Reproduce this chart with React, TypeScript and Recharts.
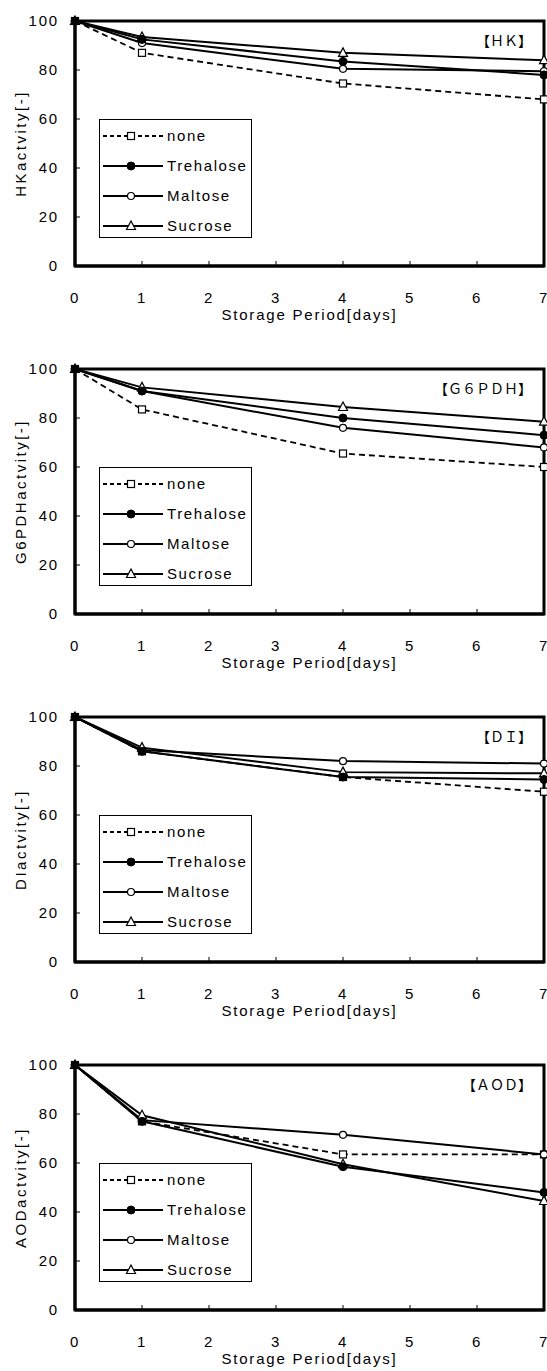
import React from 'react';
import { LineChart, Line, XAxis, YAxis, ReferenceArea, Legend } from 'recharts';

const days = [0, 1, 4, 7];
const xTicks = [0, 1, 2, 3, 4, 5, 6, 7];
const yTicks = [0, 20, 40, 60, 80, 100];

// HK
const hkNone = [100, 87, 74.5, 68];
const hkTrehalose = [100, 92.5, 83.5, 78];
const hkMaltose = [100, 91, 80.5, 79.5];
const hkSucrose = [100, 93.5, 87, 84];

// G6PDH
const g6None = [100, 83.5, 65.5, 60];
const g6Trehalose = [100, 91, 80, 73];
const g6Maltose = [100, 91, 76, 68];
const g6Sucrose = [100, 92.5, 84.5, 78.5];

// DI
const diNone = [100, 86, 75.5, 69.5];
const diTrehalose = [100, 86, 75.5, 74.5];
const diMaltose = [100, 86.5, 82, 81];
const diSucrose = [100, 87.5, 77.5, 77];

// AOD
const aodNone = [100, 77, 63.5, 63.5];
const aodTrehalose = [100, 77, 58.5, 48];
const aodMaltose = [100, 77.5, 71.5, 63.5];
const aodSucrose = [100, 79.5, 59.5, 44.5];

const panels = [
  { tag: '【ＨＫ】', yLabel: 'HKactvity[-]', none: hkNone, trehalose: hkTrehalose, maltose: hkMaltose, sucrose: hkSucrose },
  { tag: '【Ｇ６ＰＤＨ】', yLabel: 'G6PDHactvity[-]', none: g6None, trehalose: g6Trehalose, maltose: g6Maltose, sucrose: g6Sucrose },
  { tag: '【ＤＩ】', yLabel: 'DIactvity[-]', none: diNone, trehalose: diTrehalose, maltose: diMaltose, sucrose: diSucrose },
  { tag: '【ＡＯＤ】', yLabel: 'AODactvity[-]', none: aodNone, trehalose: aodTrehalose, maltose: aodMaltose, sucrose: aodSucrose },
];

// legend order
const seriesList = [
  { key: 'none', name: 'none', marker: 'square', dashed: true },
  { key: 'trehalose', name: 'Trehalose', marker: 'filled', dashed: false },
  { key: 'maltose', name: 'Maltose', marker: 'open', dashed: false },
  { key: 'sucrose', name: 'Sucrose', marker: 'triangle', dashed: false },
];
// drawing order (trehalose on top so the start point looks solid)
const drawOrder = ['none', 'maltose', 'sucrose', 'trehalose'];

const FONT = '"Liberation Sans", Arial, sans-serif';
const tickStyle = { fill: '#000', fontSize: 15, fontFamily: FONT, letterSpacing: 1.8 };

function Marker({ kind, cx, cy }: { kind: string; cx: number; cy: number }) {
  if (cx == null || cy == null) return null;
  if (kind === 'square')
    return <rect x={cx - 3.5} y={cy - 3.5} width={7} height={7} fill="#fff" stroke="#000" strokeWidth={1.2} />;
  if (kind === 'filled') return <circle cx={cx} cy={cy} r={4} fill="#000" stroke="#000" />;
  if (kind === 'open') return <circle cx={cx} cy={cy} r={3.5} fill="#fff" stroke="#000" strokeWidth={1.2} />;
  return (
    <polygon
      points={`${cx},${cy - 5} ${cx + 4.5},${cy + 3.5} ${cx - 4.5},${cy + 3.5}`}
      fill="#fff"
      stroke="#000"
      strokeWidth={1.2}
    />
  );
}

function LegendBox() {
  return (
    <div
      style={{
        width: 153,
        height: 119,
        border: '1px solid #000',
        boxSizing: 'border-box',
        background: '#fff',
        paddingTop: 1,
        fontFamily: FONT,
      }}
    >
      {seriesList.map((s) => (
        <div key={s.key} style={{ display: 'flex', alignItems: 'center', height: 30 }}>
          <svg width={66} height={14} style={{ display: 'block' }}>
            <line x1={3} x2={63} y1={7} y2={7} stroke="#000" strokeWidth={2} strokeDasharray={s.dashed ? '4 3' : undefined} />
            <Marker kind={s.marker} cx={31} cy={7} />
          </svg>
          <span style={{ fontSize: 15, letterSpacing: 1.6, marginLeft: 1, lineHeight: '16px' }}>{s.name}</span>
        </div>
      ))}
    </div>
  );
}

function Panel({ p }: { p: (typeof panels)[number] }) {
  const data = days.map((d, i) => ({
    day: d,
    none: p.none[i],
    trehalose: p.trehalose[i],
    maltose: p.maltose[i],
    sucrose: p.sucrose[i],
  }));

  return (
    <LineChart width={547} height={348} data={data} margin={{ top: 21, right: 3, bottom: 22, left: 0 }}>
      <XAxis
        type="number"
        dataKey="day"
        domain={[0, 7]}
        ticks={xTicks}
        interval={0}
        height={60}
        tickSize={-5}
        tickMargin={31}
        axisLine={{ stroke: '#000', strokeWidth: 3 }}
        tickLine={{ stroke: '#000', strokeWidth: 1 }}
        tick={tickStyle}
        label={{
          value: 'Storage Period[days]',
          position: 'insideBottom',
          offset: 6,
          style: { fill: '#000', fontSize: 15, fontFamily: FONT, letterSpacing: 1.8 },
        }}
      />
      <YAxis
        type="number"
        domain={[0, 100]}
        ticks={yTicks}
        interval={0}
        width={75}
        tickSize={-5}
        tickMargin={21}
        axisLine={{ stroke: '#000', strokeWidth: 3 }}
        tickLine={{ stroke: '#000', strokeWidth: 1 }}
        tick={tickStyle}
        label={{
          value: p.yLabel,
          angle: -90,
          position: 'insideLeft',
          offset: 21,
          style: { textAnchor: 'middle', fill: '#000', fontSize: 15, fontFamily: FONT, letterSpacing: 2.5 },
        }}
      />
      <ReferenceArea
        x1={0}
        x2={7}
        y1={0}
        y2={100}
        fill="none"
        fillOpacity={0}
        stroke="#000"
        strokeWidth={3}
        ifOverflow="visible"
        label={(props: any) => {
          const vb = props.viewBox;
          return (
            <text
              x={vb.x + vb.width - 12}
              y={vb.y + 25}
              textAnchor="end"
              fontSize={14}
              fontFamily='"Noto Sans CJK JP", sans-serif'
              fill="#000"
            >
              {p.tag}
            </text>
          );
        }}
      />
      <Legend
        layout="vertical"
        align="center"
        verticalAlign="middle"
        wrapperStyle={{ left: 99, top: 119, width: 153, height: 119 }}
        content={() => <LegendBox />}
      />
      {drawOrder.map((k) => {
        const s = seriesList.find((x) => x.key === k)!;
        return (
          <Line
            key={k}
            type="linear"
            dataKey={k}
            name={s.name}
            stroke="#000"
            strokeWidth={s.dashed ? 1.8 : 2}
            strokeDasharray={s.dashed ? '6 4' : undefined}
            isAnimationActive={false}
            dot={(props: any) => <Marker key={`${k}-${props.index}`} kind={s.marker} cx={props.cx} cy={props.cy} />}
            activeDot={false}
          />
        );
      })}
    </LineChart>
  );
}

export default function App() {
  return (
    <div
      style={{
        position: 'fixed',
        left: 0,
        top: 0,
        width: 547,
        height: 1371,
        overflow: 'hidden',
        fontFamily: FONT,
        background: '#fff',
      }}
    >
      {panels.map((p) => (
        <Panel key={p.yLabel} p={p} />
      ))}
    </div>
  );
}
